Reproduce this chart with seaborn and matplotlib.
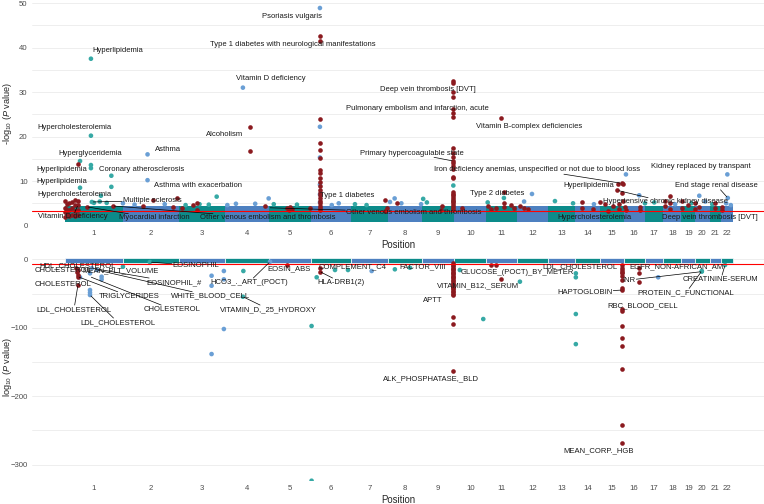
import numpy as np
import pandas as pd
import seaborn as sns
import matplotlib.pyplot as plt

# ---------------- data ----------------
chrom_len = [249, 243, 198, 191, 181, 171, 159, 146, 141, 136, 135, 134,
             115, 107, 102, 90, 81, 78, 59, 63, 48, 51]
chrom_names = [str(i) for i in range(1, 23)]

# upper panel (phenotypes), positions in cumulative Mb
top_other_pos = [1099, 112, 767, 1099, 112, 356, 65, 112, 112, 200,
                 200, 65, 356, 155, 116, 125, 654, 878, 737, 1099,
                 1099, 1099, 1099, 1674, 1674, 2418, 2855, 2857, 2734, 2013,
                 1892, 2475, 1544, 1421, 1401, 1822, 1979, 2112, 1450, 1535,
                 1560, 2190, 2280, 2500, 2540, 2630, 2700, 2760, 2790, 2850,
                 2870, 1250, 1300, 1180, 1150, 1000, 900, 820, 700, 620,
                 580, 520, 430, 300, 250, 180, 150]
top_other_logp = [48.9, 37.5, 31.0, 22.2, 20.2, 16.0, 14.5, 13.6, 12.9, 11.2,
                  8.7, 8.5, 10.2, 6.7, 5.3, 5.1, 6.5, 6.1, 4.9, 15.3,
                  9.2, 7.0, 5.2, 9.0, 5.5, 11.5, 11.5, 6.2, 6.7, 7.1,
                  6.2, 6.8, 6.0, 6.1, 5.3, 5.2, 5.4, 5.5, 5.0, 4.8,
                  5.2, 5.0, 4.8, 5.0, 5.2, 4.8, 5.0, 5.4, 4.8, 5.0,
                  4.6, 4.8, 4.6, 5.0, 4.6, 4.7, 4.8, 4.9, 4.6, 4.7,
                  4.8, 4.6, 4.8, 4.7, 5.0, 5.1, 5.4]

top_hit_pos = [0, 0, 0, 0, 9, 9, 9, 17, 17, 17, 30, 30, 30, 43, 43, 43, 43,
               56, 56, 56, 56, 56, 95,
               207, 336, 381, 465, 481, 503, 552, 569, 569,
               862, 957, 965, 970, 978, 1056, 796, 796,
               1379, 1430, 1388, 1380, 1625, 1620, 1711,
               1823, 1836, 1857, 1879, 1892, 1892, 1892, 1922, 1935, 1961, 1979, 1996,
               2227, 2227, 2276, 2306,
               2327, 2340, 2382, 2378, 2399, 2405, 2399, 2390, 2405, 2412, 2420, 2390, 2362,
               2478, 2478, 2586, 2586, 2607, 2607, 2607, 2660, 2660, 2685,
               2715, 2715, 2733, 2801, 2801, 2831, 2831]
top_hit_logp = [2.0, 3.0, 4.0, 5.5, 2.5, 3.5, 4.8, 2.2, 3.4, 5.0, 2.4, 3.9, 5.3, 2.1, 3.3, 4.6, 5.8,
                2.4, 3.6, 4.6, 5.5, 13.9, 4.2,
                4.4, 4.4, 5.7, 4.2, 6.3, 4.0, 4.6, 5.1, 3.5,
                4.3, 4.0, 3.6, 4.2, 3.8, 4.0, 22.1, 16.7,
                5.8, 5.0, 3.9, 3.3, 4.4, 3.5, 4.0,
                4.5, 3.8, 4.0, 24.1, 7.6, 5.0, 4.2, 4.6, 3.9, 4.4, 4.0, 3.7,
                5.4, 4.0, 3.7, 5.2,
                4.8, 3.2, 9.4, 7.9, 9.5, 9.4, 7.4, 4.8, 5.5, 4.2, 3.5, 3.7, 4.5,
                4.2, 3.5, 5.6, 4.5, 6.6, 5.0, 3.8, 5.5, 4.0, 4.6,
                5.0, 3.8, 4.2, 5.0, 4.0, 4.2, 3.5]

# the two tall peaks (chr6 HLA, chr9 ABO)
top_peak6_pos = 1099
top_peak6_logp = [42.6, 41.5, 23.9, 18.6, 17.0, 15.1, 12.4, 11.9, 10.8, 9.7,
                  8.8, 8.0, 7.4, 6.8, 6.2, 5.6, 5.0, 4.5, 4.0, 3.5]
top_peak9_pos = 1674
top_peak9_logp = [32.5, 32.0, 30.1, 28.9, 26.2, 25.4, 24.5, 17.4, 16.4, 15.5,
                  14.5, 14.0, 13.4, 12.8, 11.0, 10.6, 7.5, 7.2, 6.8, 6.4,
                  6.0, 5.6, 5.2, 4.8, 4.4, 4.0, 3.6]

# lower panel (lab values)
bot_other_pos = [108, 108, 108, 108, 158, 158, 65, 250, 632, 632, 632, 685, 685, 685,
                 769, 767, 1063, 1063, 1085, 1164, 1322, 1702, 1422, 1487, 1961, 1803,
                 2202, 2202, 2202, 2202, 2557, 2745, 2745, 2845, 1220, 884, 116, 138, 366]
bot_other_logp = [-20.5, -44.9, -48.7, -52.2, -25.4, -29.3, -26.3, -10.8, -24, -38.6, -138.5,
                  -17.1, -29.3, -101.9, -17.1, -54.7, -97.5, -323.7, -26.3, -15.6, -17.1,
                  -15.6, -14.6, -12.3, -32.7, -87.3, -20.5, -26.3, -80, -124, -26.3,
                  -17, -18, -8.3, -15.6, -3.5, -13, -15.6, -4]

bot_hit_pos = [56, 56, 56, 56, 47, 52, 955, 1099, 1099, 1836, 1858, 1879, 2475, 2475, 2475]
bot_hit_logp = [-15.6, -23.0, -25.4, -37.6, -12, -19, -8.3, -13, -18, -8.3, -8.3, -28.8,
                -12, -19.5, -33.7]

bot_peak9_pos = 1674
bot_peak9_logp = [-6, -8, -10, -12, -14, -16, -18, -20, -22, -24, -26, -28, -30, -32,
                  -34, -36, -38, -40, -42, -44, -46, -48, -50, -52, -84.8, -94.6, -163.3]
bot_peak15_pos = 2401
bot_peak15_logp = [-9, -12, -15, -18, -20, -25, -30, -42.5, -44.9, -72.7, -75, -97.5,
                   -114.6, -126, -160.8, -242.3, -269]

# labels: text, label position, labelled point, leader line
top_labels = ["Psoriasis vulgaris", "Type 1 diabetes with neurological manifestations",
              "Hyperlipidemia", "Vitamin D deficiency", "Alcoholism", "Hypercholesterolemia",
              "Asthma", "Hyperglyceridemia", "Hyperlipidemia", "Coronary atherosclerosis",
              "Hyperlipidemia", "Asthma with exacerbation", "Hypercholesterolemia",
              "Multiple sclerosis", "Vitamin D deficiency", "Myocardial infarction",
              "Other venous embolism and thrombosis", "Other venous embolism and thrombosis",
              "Type 1 diabetes", "Deep vein thrombosis [DVT]",
              "Pulmonary embolism and infarction, acute", "Vitamin B-complex deficiencies",
              "Primary hypercoagulable state",
              "Iron deficiency anemias, unspecified or not due to blood loss",
              "Hyperlipidemia", "Hypertensive chronic kidney disease",
              "Kidney replaced by transpant", "End stage renal disease", "Type 2 diabetes",
              "Hypercholesterolemia", "Deep vein thrombosis [DVT]"]
top_lab_x = [978, 983, 228, 888, 690, 43, 444, 108, -13, 332, -13, 573, 43, 375, 34, 384,
             875, 1504, 1215, 1565, 1517, 2000, 1496, 2034, 2258, 2590, 2740, 2809, 1862,
             2284, 2780]
top_lab_y = [46.9, 40.6, 39.3, 33.0, 20.4, 22.0, 17.2, 16.3, 12.7, 12.7, 9.8, 9.1, 6.9,
             5.6, 2.0, 1.7, 1.7, 3.0, 6.7, 30.5, 26.4, 22.2, 16.3, 12.5, 8.9, 5.3, 13.3,
             9.0, 7.1, 1.8, 1.7]
top_pt_x = [1099, 1099, 112, 767, 796, 112, 356, 65, 112, 200, 65, 356, 155, 116, 56, 95,
            207, 878, 1099, 1674, 1674, 1879, 1674, 2399, 2382, 2382, 2855, 2857, 1892,
            2290, 2790]
top_pt_y = [48.9, 41.5, 37.5, 31.0, 22.1, 20.2, 16.0, 14.5, 13.6, 11.2, 8.5, 10.2, 6.7,
            5.3, 4.6, 4.2, 4.4, 4.0, 5.0, 30.1, 25.4, 24.1, 14.5, 9.5, 7.9, 7.9, 11.5, 6.2,
            7.6, 3.0, 3.5]
top_seg = [False, False, False, False, False, False, False, False, False, False, False,
           False, False, True, True, True, True, True, False, False, False, False, True,
           True, False, True, False, True, False, False, False]

bot_labels = ["HDL_CHOLESTEROL", "CHOLESTEROL", "MEAN_PLT_VOLUME", "EOSINOPHIL",
              "CHOLESTEROL", "EOSINOPHIL_#", "HCO3_._ART_(POCT)", "EOSIN_ABS",
              "COMPLEMENT_C4", "HLA-DRB1(2)", "TRIGLYCERIDES", "WHITE_BLOOD_CELL",
              "LDL_CHOLESTEROL", "CHOLESTEROL", "VITAMIN_D,_25_HYDROXY", "LDL_CHOLESTEROL",
              "FACTOR_VIII", "GLUCOSE_(POCT)_BY_METER", "VITAMIN_B12,_SERUM", "APTT",
              "ALK_PHOSPHATASE,_BLD", "LDL_CHOLESTEROL", "EGFR_NON-AFRICAN_AM", "INR",
              "CREATININE-SERUM", "HAPTOGLOBIN", "PROTEIN_C_FUNCTIONAL", "RBC_BLOOD_CELL",
              "MEAN_CORP._HGB"]
bot_lab_x = [56, -9, 241, 565, -9, 470, 793, 965, 1241, 1190, 276, 629, 39, 461, 879, 228,
             1543, 1948, 1780, 1586, 1577, 2220, 2638, 2431, 2827, 2241, 2677, 2491, 2302]
bot_lab_y = [-9.3, -17, -17, -9.3, -36.5, -33.6, -33.6, -14.2, -10.8, -33.6, -53.7, -53.7,
             -73.1, -73.1, -73.1, -92.1, -10.8, -19, -39, -59.5, -174.6, -10.8, -10.8,
             -30.3, -29.3, -48.3, -48.8, -68.3, -279.8]
bot_pt_x = [56, 56, 241, 366, 56, 116, 884, 955, 1241, 1099, 56, 138, 56, 108, 767, 108,
            1543, 1948, 1780, 1674, 1674, 2202, 2638, 2745, 2845, 2401, 2745, 2401, 2401]
bot_pt_y = [-12, -15.6, -17, -4, -37.6, -13, -3.5, -8.3, -10.8, -18, -25.4, -15.6, -37.6,
            -25.4, -54.7, -52.2, -10.8, -19, -39, -52, -163.3, -20.5, -10.8, -18, -8.3,
            -44.9, -17, -72.7, -269]
bot_seg = [False, False, False, True, False, True, True, False, False, True, True, True,
           True, True, True, True, False, False, False, False, False, False, False, True,
           True, True, True, False, False]

# ---------------- style ----------------
sns.set_theme(style="white")
plt.rcParams['font.family'] = ['Liberation Sans', 'DejaVu Sans']
plt.rcParams['mathtext.fontset'] = 'custom'
plt.rcParams['mathtext.rm'] = 'Liberation Sans'
plt.rcParams['mathtext.it'] = 'Liberation Sans:italic'

blue_band, teal_band = '#4d80c0', '#0c8b8a'
blue_pt, teal_pt = '#6a9fd5', '#36a9a5'
hit_col = '#8b1a1f'

ends = np.cumsum(chrom_len)
starts = ends - np.array(chrom_len)
centers = starts + np.array(chrom_len) / 2


def odd_chrom(pos):
    idx = np.clip(np.searchsorted(ends, pos, side='right'), 0, 21)
    return np.where((idx + 1) % 2 == 1, 'odd', 'even')


def draw_panel(ax, other_pos, other_logp, hit_pos, hit_logp, odd_is_teal, gap,
               band_lo, band_hi, thresh, labels, lx, ly, px, py, seg, ylim, yticks, minor):
    cols_band = [(teal_band if odd_is_teal else blue_band) if (i + 1) % 2 else
                 (blue_band if odd_is_teal else teal_band) for i in range(22)]
    ax.bar(starts, band_hi - band_lo, width=chrom_len, bottom=band_lo, align='edge',
           color=cols_band, edgecolor='white', linewidth=gap, zorder=2)
    df = pd.DataFrame({'pos': other_pos, 'logp': other_logp})
    df['grp'] = odd_chrom(df['pos'].values)
    pal = {'odd': teal_pt if odd_is_teal else blue_pt,
           'even': blue_pt if odd_is_teal else teal_pt}
    sns.scatterplot(data=df, x='pos', y='logp', hue='grp', palette=pal, s=11,
                    linewidth=0, legend=False, ax=ax, zorder=3)
    hits = pd.DataFrame({'pos': hit_pos, 'logp': hit_logp})
    sns.scatterplot(data=hits, x='pos', y='logp', color=hit_col, s=11, linewidth=0,
                    legend=False, ax=ax, zorder=4)
    ax.axhline(thresh, color='#ff0000', lw=0.8, zorder=5)
    for t, x0, y0, x1, y1, s in zip(labels, lx, ly, px, py, seg):
        ax.annotate(t, xy=(x1, y1), xytext=(x0, y0), ha='center', va='center',
                    fontsize=5.5, color='#1a1a1a', zorder=6, annotation_clip=False,
                    bbox=dict(boxstyle='square,pad=0.1', fc='none', ec='none'),
                    arrowprops=dict(arrowstyle='-', color='black', lw=0.5,
                                    shrinkA=0, shrinkB=1) if s else None)
    ax.set_xlim(-142, 3013)
    ax.set_ylim(*ylim)
    ax.set_yticks(yticks)
    ax.set_yticks(minor, minor=True)
    ax.set_xticks(centers, chrom_names)
    ax.grid(axis='y', which='both', color='#ebebeb', lw=0.6)
    ax.grid(axis='x', visible=False)
    ax.set_axisbelow(True)
    for sp in ax.spines.values():
        sp.set_visible(False)
    ax.tick_params(axis='both', which='major', length=2, width=0.5, color='#555555',
                   labelsize=5.6, labelcolor='#4d4d4d', pad=1.2)
    ax.tick_params(axis='y', which='minor', length=0)
    ax.set_xlabel('Position', fontsize=6.9, labelpad=2)


fig = plt.figure(figsize=(7.64, 5.04), dpi=100)
ax1 = fig.add_axes([32 / 764, (504 - 226) / 504, 732 / 764, 226 / 504])
ax2 = fig.add_axes([32 / 764, (504 - 481) / 504, 732 / 764, (481 - 252) / 504])

draw_panel(ax1, top_other_pos, top_other_logp,
           top_hit_pos + [top_peak6_pos] * len(top_peak6_logp) + [top_peak9_pos] * len(top_peak9_logp),
           top_hit_logp + top_peak6_logp + top_peak9_logp,
           True, 0, 0.9, 4.4, 3.2, top_labels, top_lab_x, top_lab_y, top_pt_x, top_pt_y, top_seg,
           (-0.1, 50.7), [0, 10, 20, 30, 40, 50], [5, 15, 25, 35, 45])
ax1.set_ylabel(r'-log$_{10}$ ($P$ value)', fontsize=6.6)
ax1.yaxis.set_label_coords(-0.025, 0.5)

draw_panel(ax2, bot_other_pos, bot_other_logp,
           bot_hit_pos + [bot_peak9_pos] * len(bot_peak9_logp) + [bot_peak15_pos] * len(bot_peak15_logp),
           bot_hit_logp + bot_peak9_logp + bot_peak15_logp,
           False, 0.5, -6.0, 2.5, -7.3, bot_labels, bot_lab_x, bot_lab_y, bot_pt_x, bot_pt_y, bot_seg,
           (-324.1, 10.7), [-300, -200, -100, 0], [-250, -150, -50])
ax2.set_ylabel(r'log$_{10}$ ($P$ value)', fontsize=6.6)
ax2.yaxis.set_label_coords(-0.025, 0.5)

fig.savefig('out.png', dpi=100)
